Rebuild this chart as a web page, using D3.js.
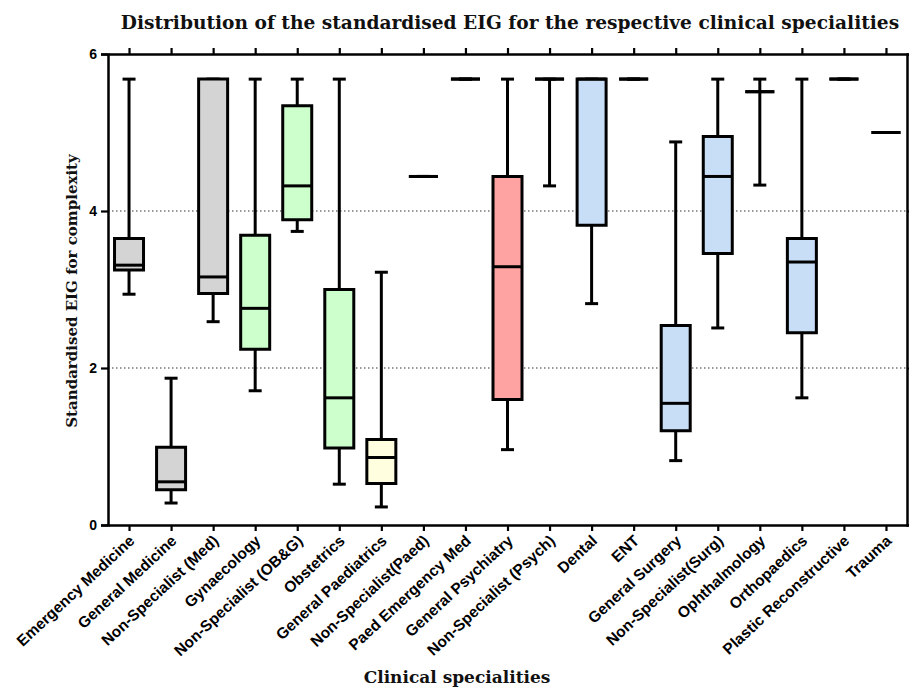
<!DOCTYPE html>
<html>
<head>
<meta charset="utf-8">
<script src="https://d3js.org/d3.v7.min.js"></script>
<style>
  body { margin: 0; background: #fff; }
  .title, .axis-title { font-family: "DejaVu Serif", serif; font-weight: bold; fill: #111; }
  .tick-label { font-family: "Liberation Sans", Arial, sans-serif; font-weight: bold; fill: #000; }
</style>
</head>
<body>
<svg id="chart" width="909" height="687"></svg>
<script>
// categories along x
const categories = ["Emergency Medicine", "General Medicine", "Non-Specialist (Med)", "Gynaecology",
  "Non-Specialist (OB&G)", "Obstetrics", "General Paediatrics", "Non-Specialist(Paed)", "Paed Emergency Med",
  "General Psychiatry", "Non-Specialist (Psych)", "Dental", "ENT", "General Surgery", "Non-Specialist(Surg)",
  "Ophthalmology", "Orthopaedics", "Plastic Reconstructive", "Trauma"];

// group of each speciality (decides fill)
const groups = ["med", "med", "med", "obg", "obg", "obg", "paed", "paed", "paed",
  "psych", "psych", "surg", "surg", "surg", "surg", "surg", "surg", "surg", "surg"];

// five number summaries
const mins    = [2.94, 0.28, 2.59, 1.71, 3.74, 0.52, 0.23, 4.44, 5.68, 0.96, 4.32, 2.82, 5.68, 0.82, 2.51, 4.33, 1.62, 5.68, 5.00];
const q1s     = [3.25, 0.45, 2.95, 2.24, 3.89, 0.98, 0.53, 4.44, 5.68, 1.60, 5.68, 3.82, 5.68, 1.20, 3.46, 5.52, 2.45, 5.68, 5.00];
const medians = [3.31, 0.55, 3.16, 2.76, 4.32, 1.62, 0.86, 4.44, 5.68, 3.29, 5.68, 5.68, 5.68, 1.55, 4.44, 5.52, 3.35, 5.68, 5.00];
const q3s     = [3.65, 0.99, 5.68, 3.69, 5.34, 3.00, 1.09, 4.44, 5.68, 4.44, 5.68, 5.68, 5.68, 2.54, 4.95, 5.52, 3.65, 5.68, 5.00];
const maxs    = [5.68, 1.87, 5.68, 5.68, 5.68, 5.68, 3.22, 4.44, 5.68, 5.68, 5.68, 5.68, 5.68, 4.88, 5.68, 5.68, 5.68, 5.68, 5.00];

const yTicks = [0, 2, 4, 6];
const gridValues = [2, 4];

const groupColors = { med: "#d4d4d4", obg: "#ccffcc", paed: "#ffffe0", psych: "#ffa2a2", surg: "#c8ddf6" };

const svg = d3.select("#chart");
const plotLeft = 108, plotRight = 907, plotTop = 54, plotBottom = 525;

const x = d3.scalePoint().domain(categories).range([plotLeft, plotRight]).padding(0.5);
const y = d3.scaleLinear().domain([0, 6]).range([plotBottom, plotTop]);

const boxW = 29, capW = 13;

// title
svg.append("text").attr("class", "title")
  .attr("x", 510).attr("y", 29)
  .attr("text-anchor", "middle")
  .style("font-size", "18.6px")
  .text("Distribution of the standardised EIG for the respective clinical specialities");

// dotted grid lines
svg.append("g").selectAll("line")
  .data(gridValues)
  .enter().append("line")
  .attr("x1", plotLeft).attr("x2", plotRight)
  .attr("y1", d => y(d)).attr("y2", d => y(d))
  .style("stroke", "#777")
  .style("stroke-width", 1.3)
  .style("stroke-dasharray", "1.5,2.5");

// left axis
const yAxis = svg.append("g")
  .attr("transform", "translate(" + plotLeft + ",0)")
  .call(d3.axisLeft(y).tickValues(yTicks).tickSize(7).tickPadding(4).tickFormat(d3.format("d")));
yAxis.selectAll("text").attr("class", "tick-label").style("font-size", "14px");

// right axis (ticks outwards, no labels)
svg.append("g")
  .attr("transform", "translate(" + plotRight + ",0)")
  .call(d3.axisRight(y).tickValues(yTicks).tickSize(5).tickFormat(""));

// bottom axis
const xAxis = svg.append("g")
  .attr("transform", "translate(0," + plotBottom + ")")
  .call(d3.axisBottom(x).tickSize(6).tickSizeOuter(0));
xAxis.selectAll("text")
  .attr("class", "tick-label")
  .style("font-size", "15.5px")
  .attr("text-anchor", "end")
  .attr("dy", null)
  .attr("y", 0)
  .attr("transform", "translate(6,17) rotate(-43)");

// top axis (ticks outwards, no labels)
svg.append("g")
  .attr("transform", "translate(0," + plotTop + ")")
  .call(d3.axisTop(x).tickSize(6).tickSizeOuter(0).tickFormat(""));

svg.selectAll(".domain").style("stroke", "#000").style("stroke-width", 2.5);
svg.selectAll(".tick line").style("stroke", "#000").style("stroke-width", 2.2);

// boxes
const boxes = svg.append("g").selectAll("g")
  .data(categories)
  .enter().append("g")
  .attr("transform", d => "translate(" + x(d) + ",0)");

// upper and lower whiskers
boxes.append("line")
  .attr("y1", (d, i) => y(maxs[i])).attr("y2", (d, i) => y(q3s[i]));
boxes.append("line")
  .attr("y1", (d, i) => y(q1s[i])).attr("y2", (d, i) => y(mins[i]));
boxes.append("line")
  .attr("x1", -capW / 2).attr("x2", capW / 2)
  .attr("y1", (d, i) => y(maxs[i])).attr("y2", (d, i) => y(maxs[i]));
boxes.append("line")
  .attr("x1", -capW / 2).attr("x2", capW / 2)
  .attr("y1", (d, i) => y(mins[i])).attr("y2", (d, i) => y(mins[i]));

// box as a path so a flat box still shows as a line
boxes.append("path")
  .attr("d", (d, i) => "M" + (-boxW / 2) + "," + y(q3s[i]) + "H" + (boxW / 2) + "V" + y(q1s[i]) + "H" + (-boxW / 2) + "Z")
  .style("fill", (d, i) => groupColors[groups[i]]);

boxes.append("line")
  .attr("x1", -boxW / 2).attr("x2", boxW / 2)
  .attr("y1", (d, i) => y(medians[i])).attr("y2", (d, i) => y(medians[i]));

boxes.selectAll("line, path")
  .style("stroke", "#000")
  .style("stroke-width", 3);

// axis titles
svg.append("text").attr("class", "axis-title")
  .attr("transform", "translate(77,291) rotate(-90)")
  .attr("text-anchor", "middle")
  .style("font-size", "15px")
  .text("Standardised EIG for complexity");

svg.append("text").attr("class", "axis-title")
  .attr("x", 457).attr("y", 683)
  .attr("text-anchor", "middle")
  .style("font-size", "17px")
  .text("Clinical specialities");
</script>
</body>
</html>
